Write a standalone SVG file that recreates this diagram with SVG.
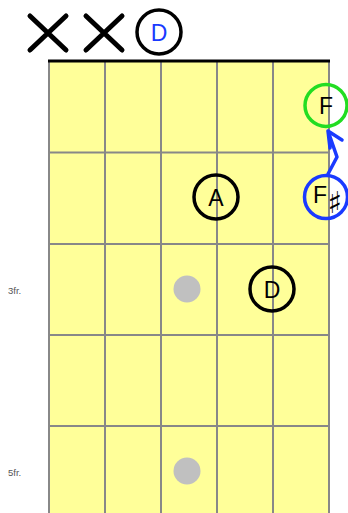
<svg xmlns="http://www.w3.org/2000/svg" width="348" height="513" viewBox="0 0 348 513">
<style>
.grid{stroke:#888;stroke-width:2;fill:none}
.lbl{font-family:"Liberation Sans",Arial,sans-serif;font-size:23px;text-anchor:middle;dominant-baseline:central}
.note{fill:none;stroke-width:3.5}
.fr{font-family:"Liberation Sans",Arial,sans-serif;font-size:9.5px;fill:#555}
.mute{stroke:#000;stroke-width:5;stroke-linecap:round}
.dot{fill:#c0c0c0}
</style>
<rect width="348" height="513" fill="#fff"/>
<g id="board">
<rect x="49" y="61" width="280" height="460" fill="#ffff99"/>
<path class="grid" d="M49,61V513M105,61V513M161,61V513M217,61V513M273,61V513M329,61V513M49,152.5H329M49,244H329M49,335H329M49,426H329"/>
<line x1="48" y1="61" x2="330" y2="61" stroke="#000" stroke-width="3"/>
</g>
<g id="marks">
<text class="fr" x="8" y="294">3fr.</text>
<text class="fr" x="8" y="476">5fr.</text>
<circle class="dot" cx="187" cy="289" r="13.5"/>
<circle class="dot" cx="187" cy="471" r="13.5"/>
</g>
<g id="mute1"><path class="mute" d="M30,16L66,50M66,16L30,50"/></g>
<g id="mute2"><path class="mute" d="M86,16L122,50M122,16L86,50"/></g>
<g id="openD"><circle class="note" cx="159" cy="32" r="22" stroke="#000" fill="#fff"/><text class="lbl" x="159" y="33" fill="#1a3aff">D</text></g>
<g id="noteF"><circle class="note" cx="326" cy="105.5" r="21" stroke="#22dd22" fill="#ffff99"/><text class="lbl" x="326" y="106" fill="#000">F</text></g>
<g id="noteFs"><circle class="note" cx="326" cy="197" r="21.5" stroke="#1a3aff" fill="#ffff99"/><text class="lbl" x="320" y="195" fill="#000">F</text><text x="335" y="213" font-family="DejaVu Sans,sans-serif" font-size="30" text-anchor="middle" fill="#000">♯</text></g>
<g id="noteA"><circle class="note" cx="216" cy="197" r="22" stroke="#000" fill="none"/><text class="lbl" x="216" y="198" fill="#000">A</text></g>
<g id="noteD"><circle class="note" cx="272" cy="289" r="22" stroke="#000" fill="none"/><text class="lbl" x="272" y="290" fill="#000">D</text></g>
<g id="connectors">
<path d="M328,174L337,157L328,131M328,131L330,148M328,131L342,140" fill="none" stroke="#1a3aff" stroke-width="3.5" stroke-linecap="round" stroke-linejoin="round"/>
</g>
</svg>
